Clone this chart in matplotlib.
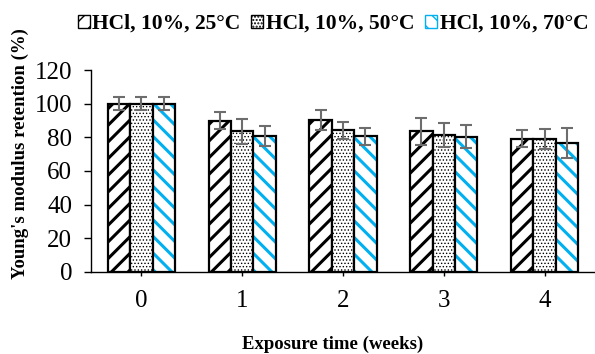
import matplotlib.pyplot as plt
import matplotlib.patches as mpatches
import numpy as np

plt.rcParams['font.family'] = ['Liberation Serif', 'DejaVu Serif']

weeks = ["0", "1", "2", "3", "4"]
series = ["HCl, 10%, 25°C", "HCl, 10%, 50°C", "HCl, 10%, 70°C"]
ret_25 = [100.0, 90.0, 90.3, 83.6, 79.1]
ret_50 = [100.0, 83.6, 84.2, 81.3, 78.9]
ret_70 = [100.0, 80.7, 80.7, 80.5, 76.7]
err_25 = [4.0, 4.8, 6.0, 8.0, 5.0]
err_50 = [4.0, 7.3, 5.0, 7.0, 6.0]
err_70 = [4.0, 6.0, 5.0, 7.0, 9.0]

values = [ret_25, ret_50, ret_70]
errors = [err_25, err_50, err_70]
hatches = ['//', '.....', '\\\\']
hatch_colors = ['black', 'black', '#00B0F0']
hatch_widths = [2.2, 0.6, 2.2]

fig = plt.figure(figsize=(5.95, 3.54), dpi=100)
ax = fig.add_axes([0.153, 0.232, 0.847, 0.570])

x = np.arange(len(weeks))
w = 0.222
handles = []
for i in range(3):
    pos = x + (i - 1) * w
    with plt.rc_context({'hatch.linewidth': hatch_widths[i]}):
        # hatch drawn in its own colour, outline on top in black
        ax.bar(pos, values[i], w, color='white', edgecolor=hatch_colors[i],
               hatch=hatches[i], linewidth=0)
        handles.append(mpatches.Patch(facecolor='white', edgecolor=hatch_colors[i],
                                      hatch=hatches[i], linewidth=1.0,
                                      label=series[i]))
    ax.bar(pos, values[i], w, fill=False, edgecolor='black', linewidth=1.6)
    ax.errorbar(pos, values[i], yerr=errors[i], fmt='none', ecolor='#6d6d6d',
                elinewidth=1.5, capsize=4, capthick=1.5)

ax.set_xlim(-0.5, 4.5)
ax.set_ylim(0, 120)
ax.set_yticks(range(0, 121, 20))
ax.set_xticks(x)
ax.set_xticklabels(weeks)
ax.tick_params(axis='both', labelsize=18, direction='out', length=5, width=1)
ax.tick_params(axis='y', pad=8.5)
ax.tick_params(axis='x', length=3, pad=10)
ax.spines['top'].set_visible(False)
ax.spines['right'].set_visible(False)
ax.spines['left'].set_linewidth(1)
ax.spines['bottom'].set_linewidth(1)

fig.text(0.034, 0.567, "Young's modulus retention (%)", rotation=90,
         ha='center', va='center', fontsize=13.5, fontweight='bold')
fig.text(0.559, 0.028, "Exposure time (weeks)", ha='center', va='center',
         fontsize=13.5, fontweight='bold')

leg = fig.legend(handles=handles, loc='center', bbox_to_anchor=(0.56, 0.932),
                 ncol=3, frameon=False, handlelength=0.56, handleheight=0.56,
                 handletextpad=0.12, columnspacing=0.5, borderpad=0.2,
                 prop={'weight': 'bold', 'size': 15.5})

fig.savefig("out.png", dpi=100)
